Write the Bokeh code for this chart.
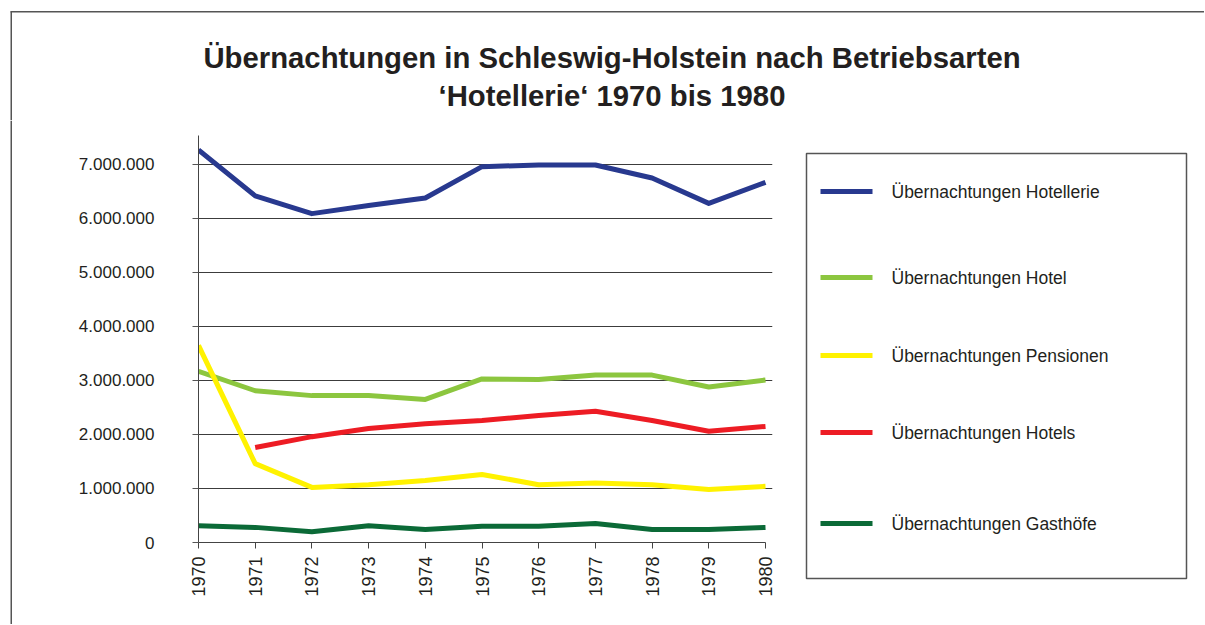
import math
from bokeh.plotting import figure
from bokeh.layouts import column, row
from bokeh.models import Range1d, FixedTicker
from bokeh.core.properties import value
from bokeh.embed import file_html
from bokeh.resources import INLINE

# ---- data ----
years = [1970, 1971, 1972, 1973, 1974, 1975, 1976, 1977, 1978, 1979, 1980]
hotellerie = [7.27e6, 6.42e6, 6.09e6, 6.24e6, 6.38e6, 6.96e6, 6.99e6, 6.99e6, 6.75e6, 6.28e6, 6.67e6]
hotel = [3.17e6, 2.81e6, 2.72e6, 2.72e6, 2.65e6, 3.03e6, 3.02e6, 3.10e6, 3.10e6, 2.88e6, 3.01e6]
pensionen = [3.65e6, 1.46e6, 1.02e6, 1.07e6, 1.15e6, 1.26e6, 1.07e6, 1.10e6, 1.07e6, 0.98e6, 1.04e6]
hotels = [float("nan"), 1.76e6, 1.96e6, 2.11e6, 2.20e6, 2.26e6, 2.35e6, 2.43e6, 2.26e6, 2.06e6, 2.15e6]
gasthoefe = [0.31e6, 0.28e6, 0.20e6, 0.31e6, 0.24e6, 0.30e6, 0.30e6, 0.35e6, 0.24e6, 0.24e6, 0.28e6]

series_names = ["Übernachtungen Hotellerie", "Übernachtungen Hotel", "Übernachtungen Pensionen",
                "Übernachtungen Hotels", "Übernachtungen Gasthöfe"]
series_values = [hotellerie, hotel, pensionen, hotels, gasthoefe]
series_colors = ["#28398f", "#8cc63f", "#fff200", "#ed1c24", "#0b6a37"]

y_ticks = [0, 1e6, 2e6, 3e6, 4e6, 5e6, 6e6, 7e6]
y_tick_labels = ["0", "1.000.000", "2.000.000", "3.000.000", "4.000.000",
                 "5.000.000", "6.000.000", "7.000.000"]
title_lines = ["Übernachtungen in Schleswig-Holstein nach Betriebsarten",
               "‘Hotellerie‘ 1970 bis 1980"]

FONT = "Liberation Sans"
TXT = "#231f20"
FRAME_COL = "#555555"

TOTAL_W, TOTAL_H = 1204, 624
HEAD_H = 120               # height of the title band
STRIP = 12                 # width of the left border strip
FRAME_RIGHT = 772          # page x where the plot frame (grid lines) ends
PLOT_RIGHT = 782           # page x where the chart figure ends
BODY_H = TOTAL_H - HEAD_H


def canvas(w, h):
    """figure whose frame is the whole canvas, measured in pixels from the top-left"""
    f = figure(width=w, height=h, output_backend="svg", toolbar_location=None,
               x_range=Range1d(0, w), y_range=Range1d(h, 0),
               x_axis_location=None, y_axis_location=None, min_border=0)
    f.grid.visible = False
    f.outline_line_color = None
    f.background_fill_color = "white"
    f.border_fill_color = "white"
    return f


# ---- title band (with top and left page-frame edges) ----
head = canvas(TOTAL_W, HEAD_H)
head.segment(x0=[10], y0=[11.25], x1=[TOTAL_W], y1=[11.25], line_color=FRAME_COL, line_width=1.5)
head.segment(x0=[10.75], y0=[11], x1=[10.75], y1=[HEAD_H], line_color=FRAME_COL, line_width=1.5)
head.text(x=[611.5, 611.5], y=[57, 95], text=title_lines, text_align="center",
          text_baseline="middle", text_font=value(FONT), text_font_style="bold",
          text_font_size=value("29.3px"), text_color=TXT)

# ---- left edge of the page frame below the title band ----
left_strip = canvas(STRIP, BODY_H)
left_strip.segment(x0=[10.75], y0=[0], x1=[10.75], y1=[BODY_H], line_color=FRAME_COL, line_width=1.5)

# ---- main chart ----
PX_PER_YEAR = 56.7
p = figure(width=PLOT_RIGHT - STRIP, height=BODY_H, output_backend="svg", toolbar_location=None,
           title=None,
           x_range=Range1d(years[0], years[-1] + 7 / PX_PER_YEAR),
           y_range=Range1d(0, 7.537e6),
           min_border_left=198 - STRIP, min_border_right=PLOT_RIGHT - FRAME_RIGHT,
           min_border_top=135 - HEAD_H, min_border_bottom=BODY_H - (542 - HEAD_H))
p.outline_line_color = None
p.background_fill_color = "white"
p.border_fill_color = "white"
p.xgrid.grid_line_color = None
p.ygrid.grid_line_color = "#3c3c3c"
p.ygrid.grid_line_width = 1

for vals, col in zip(series_values, series_colors):
    p.line(years, vals, line_color=col, line_width=5, line_join="round")

p.xaxis.bounds = (years[0], years[-1])
p.xaxis.ticker = FixedTicker(ticks=years)
p.xaxis.major_label_orientation = math.pi / 2
p.xaxis.major_label_text_font = FONT
p.xaxis.major_label_text_font_size = "18px"
p.xaxis.major_label_text_color = TXT
p.xaxis.major_tick_out = 6
p.xaxis.major_tick_in = 0
p.xaxis.minor_tick_line_color = None
p.xaxis.axis_line_color = "#444444"
p.xaxis.major_tick_line_color = "#444444"
p.xaxis.major_label_standoff = 8

p.yaxis.ticker = FixedTicker(ticks=y_ticks)
p.yaxis.major_label_overrides = {t: l for t, l in zip(y_ticks, y_tick_labels)}
p.yaxis.major_label_text_font = FONT
p.yaxis.major_label_text_font_size = "17px"
p.yaxis.major_label_text_color = TXT
p.yaxis.major_tick_out = 6
p.yaxis.major_tick_in = 0
p.yaxis.minor_tick_line_color = None
p.yaxis.axis_line_color = "#444444"
p.yaxis.major_tick_line_color = "#555555"
p.yaxis.major_label_standoff = 38

# ---- legend panel (pixel coordinates relative to its own top-left) ----
lg = canvas(TOTAL_W - PLOT_RIGHT, BODY_H)
box_l, box_r, box_t, box_b = 806 - PLOT_RIGHT, 1186 - PLOT_RIGHT, 153 - HEAD_H, 578 - HEAD_H
lg.quad(left=[box_l], right=[box_r], top=[box_t], bottom=[box_b],
        fill_color="white", line_color=FRAME_COL, line_width=1.5)
row_y = [y - HEAD_H for y in [191, 277, 355, 432, 523]]
lg.segment(x0=[820 - PLOT_RIGHT] * len(row_y), y0=row_y,
           x1=[872 - PLOT_RIGHT] * len(row_y), y1=row_y,
           line_color=series_colors, line_width=5)
lg.text(x=[891 - PLOT_RIGHT] * len(row_y), y=row_y, text=series_names,
        text_align="left", text_baseline="middle", text_font=value(FONT),
        text_font_size=value("17.5px"), text_color=TXT)

layout = column(head,
                row(column(left_strip, spacing=0), p, column(lg, spacing=0), spacing=0),
                spacing=0)
open("out.html", "w").write(file_html(layout, INLINE))
